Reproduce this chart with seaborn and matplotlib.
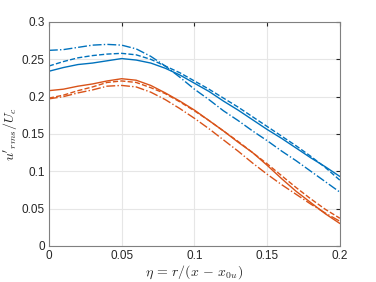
import numpy as np
import pandas as pd
import seaborn as sns
import matplotlib.pyplot as plt

sns.set_style("whitegrid")
plt.rcParams['font.family'] = ['Liberation Sans', 'DejaVu Sans']
plt.rcParams['mathtext.fontset'] = 'cm'

eta = [0.00, 0.01, 0.02, 0.03, 0.04, 0.05, 0.06, 0.07, 0.08, 0.09, 0.10,
       0.11, 0.12, 0.13, 0.14, 0.15, 0.16, 0.17, 0.18, 0.19, 0.20]

blue_solid = [0.234, 0.239, 0.243, 0.245, 0.248, 0.251, 0.249, 0.245, 0.238, 0.229, 0.218,
              0.207, 0.194, 0.182, 0.169, 0.156, 0.144, 0.131, 0.118, 0.106, 0.093]
blue_dash = [0.241, 0.247, 0.252, 0.255, 0.257, 0.258, 0.256, 0.250, 0.241, 0.232, 0.221,
             0.210, 0.198, 0.186, 0.173, 0.160, 0.147, 0.134, 0.120, 0.105, 0.088]
blue_dashdot = [0.262, 0.263, 0.266, 0.269, 0.270, 0.269, 0.264, 0.254, 0.241, 0.226, 0.210,
                0.196, 0.181, 0.168, 0.154, 0.141, 0.127, 0.114, 0.100, 0.086, 0.072]

orange_solid = [0.208, 0.210, 0.214, 0.217, 0.221, 0.224, 0.222, 0.215, 0.205, 0.194, 0.182,
                0.168, 0.154, 0.139, 0.125, 0.108, 0.090, 0.073, 0.058, 0.043, 0.030]
orange_dash = [0.198, 0.202, 0.208, 0.213, 0.219, 0.221, 0.219, 0.212, 0.204, 0.193, 0.181,
               0.168, 0.154, 0.140, 0.125, 0.110, 0.094, 0.078, 0.063, 0.049, 0.037]
orange_dashdot = [0.197, 0.200, 0.205, 0.209, 0.214, 0.215, 0.213, 0.206, 0.196, 0.184, 0.171,
                  0.157, 0.142, 0.127, 0.111, 0.096, 0.082, 0.069, 0.056, 0.044, 0.033]

blue = '#0072BD'
orange = '#D95319'

series = [
    (blue_solid, blue, '-'),
    (blue_dash, blue, '--'),
    (blue_dashdot, blue, '-.'),
    (orange_solid, orange, '-'),
    (orange_dash, orange, '--'),
    (orange_dashdot, orange, '-.'),
]

fig = plt.figure(figsize=(3.76, 2.82), dpi=100)
ax = fig.add_axes([0.130, 0.128, 0.774, 0.794])

for vals, col, ls in series:
    sns.lineplot(x=eta, y=vals, color=col, linestyle=ls, linewidth=1.0, ax=ax)

ax.set_xlim(0, 0.2)
ax.set_ylim(0, 0.3)
ax.set_xticks([0, 0.05, 0.1, 0.15, 0.2])
ax.set_xticklabels(['0', '0.05', '0.1', '0.15', '0.2'])
ax.set_yticks([0, 0.05, 0.1, 0.15, 0.2, 0.25, 0.3])
ax.set_yticklabels(['0', '0.05', '0.1', '0.15', '0.2', '0.25', '0.3'])
ax.grid(True, color='#e6e6e6', linewidth=0.8)
ax.tick_params(axis='both', direction='in', length=3, labelsize=8.5, colors='#262626',
               top=True, right=True, pad=3)
for s in ax.spines.values():
    s.set_color('#808080')
    s.set_linewidth(0.8)

ax.set_xlabel(r"$\eta\,=\,r/(x\,-\,x_{0u})$", fontsize=10, labelpad=1)
ax.set_ylabel(r"$u'_{rms}/U_c$", fontsize=10, labelpad=2)

plt.savefig('out.png', dpi=100)
